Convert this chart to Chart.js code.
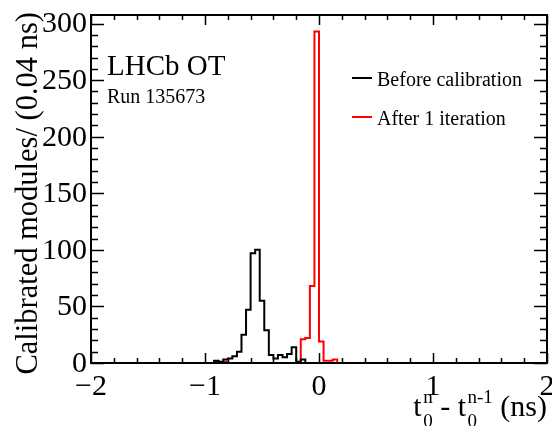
<!DOCTYPE html>
<html>
<head>
<meta charset="utf-8">
<script src="https://cdn.jsdelivr.net/npm/chart.js@4"></script>
<style>
  html, body { margin: 0; padding: 0; background: #fff; }
  #wrap { width: 552px; height: 426px; position: relative; }
</style>
</head>
<body>
<div id="wrap"><canvas id="c" width="552" height="426"></canvas></div>
<script>
// ---- data (bin width 0.04 ns, 100 bins from -2 to 2) ----
const xMin = -2;
const xMax = 2;
const binWidth = 0.04;
// counts per bin, bin index 0..99
const beforeCounts = [
  0,0,0,0,0,0,0,0,0,0,
  0,0,0,0,0,0,0,0,0,0,
  0,0,0,0,0,0,0,2,1,3,
  4,6,10,25,47,97,100,55,29,7,
  4,7,5,8,14,1,3,0,0,0,
  0,0,0,0,0,0,0,0,0,0,
  0,0,0,0,0,0,0,0,0,0,
  0,0,0,0,0,0,0,0,0,0,
  0,0,0,0,0,0,0,0,0,0,
  0,0,0,0,0,0,0,0,0,0
];
const afterCounts = [
  0,0,0,0,0,0,0,0,0,0,
  0,0,0,0,0,0,0,0,0,0,
  0,0,0,0,0,0,0,1,0,1,
  0,0,0,0,0,0,0,0,0,0,
  0,0,0,0,0,0,21,22,68,293,
  19,2,2,3,0,0,0,0,0,0,
  0,0,0,0,0,0,0,0,0,0,
  0,0,0,0,0,0,0,0,0,0,
  0,0,0,0,0,0,0,0,0,0,
  0,0,0,0,0,0,0,0,0,0
];
const seriesNames = ['Before calibration', 'After 1 iteration'];
const xTickValues = [-2, -1, 0, 1, 2];
const xTickLabels = ['\u22122', '\u22121', '0', '1', '2'];
const yTickValues = [0, 50, 100, 150, 200, 250, 300];
const yTickLabels = ['0', '50', '100', '150', '200', '250', '300'];
const yMax = 307.6;

function toSteps(counts) {
  const pts = counts.map((v, i) => ({ x: xMin + i * binWidth, y: v }));
  pts.push({ x: xMin + counts.length * binWidth, y: counts[counts.length - 1] });
  return pts;
}

const FONT = '"Liberation Serif", "Times New Roman", serif';

const framePlugin = {
  id: 'rootFrame',
  afterDraw(chart) {
    const ctx = chart.ctx;
    const xs = chart.scales.x, ys = chart.scales.y;
    const a = chart.chartArea;
    ctx.save();
    ctx.strokeStyle = '#000';
    ctx.lineWidth = 2;
    ctx.strokeRect(a.left, a.top, a.right - a.left, a.bottom - a.top);
    ctx.lineWidth = 1.5;
    // x ticks
    for (let i = 0; i <= 20; i++) {
      const v = xMin + i * 0.2;
      const px = Math.round(xs.getPixelForValue(v)) + 0.5;
      const major = (i % 5 === 0);
      const len = major ? 10 : 5;
      ctx.beginPath();
      ctx.moveTo(px, a.bottom); ctx.lineTo(px, a.bottom - len);
      ctx.moveTo(px, a.top); ctx.lineTo(px, a.top + len);
      ctx.stroke();
    }
    // y ticks
    for (let v = 0; v <= yMax; v += 10) {
      const py = Math.round(ys.getPixelForValue(v)) + 0.5;
      const major = (v % 50 === 0);
      const len = major ? 13 : 7;
      ctx.beginPath();
      ctx.moveTo(a.left, py); ctx.lineTo(a.left + len, py);
      ctx.moveTo(a.right, py); ctx.lineTo(a.right - len, py);
      ctx.stroke();
    }
    // tick labels
    ctx.fillStyle = '#000';
    ctx.font = '30px ' + FONT;
    ctx.textAlign = 'center';
    ctx.textBaseline = 'alphabetic';
    xTickValues.forEach((v, i) => {
      ctx.fillText(xTickLabels[i], xs.getPixelForValue(v), 395);
    });
    ctx.textAlign = 'right';
    ctx.textBaseline = 'middle';
    yTickValues.forEach((v, i) => {
      ctx.fillText(yTickLabels[i], a.left - 4, ys.getPixelForValue(v) + 1);
    });
    // y title
    ctx.save();
    ctx.translate(37, a.top - 3);
    ctx.rotate(-Math.PI / 2);
    ctx.textAlign = 'right';
    ctx.textBaseline = 'alphabetic';
    ctx.font = '30.5px ' + FONT;
    ctx.fillText('Calibrated modules/ (0.04 ns)', 0, 0);
    ctx.restore();
    // x title with scripts
    const main = '30px ' + FONT, small = '19px ' + FONT;
    const parts = [
      { t: 't', f: main },
      { sup: 'n', sub: '0' },
      { t: ' - t', f: main },
      { sup: 'n-1', sub: '0' },
      { t: ' (ns)', f: main }
    ];
    let total = 0;
    parts.forEach(p => {
      if (p.t) { ctx.font = p.f; p.w = ctx.measureText(p.t).width; }
      else { ctx.font = small; p.w = Math.max(ctx.measureText(p.sup).width, ctx.measureText(p.sub).width) + 1.5; }
      total += p.w;
    });
    let x = a.right - total;
    const base = 416;
    ctx.textAlign = 'left';
    ctx.textBaseline = 'alphabetic';
    parts.forEach(p => {
      if (p.t) { ctx.font = p.f; ctx.fillText(p.t, x, base); }
      else {
        ctx.font = small;
        ctx.fillText(p.sup, x + 1.5, base - 13);
        ctx.fillText(p.sub, x + 1.5, base + 11);
      }
      x += p.w;
    });
    // annotations
    ctx.font = '29px ' + FONT;
    ctx.fillText('LHCb OT', 107, 75);
    ctx.font = '20px ' + FONT;
    ctx.fillText('Run 135673', 107, 103);
    // legend
    const colors = ['#000000', '#ff0000'];
    const ly = [78, 117];
    seriesNames.forEach((n, i) => {
      ctx.strokeStyle = colors[i];
      ctx.lineWidth = 2;
      ctx.beginPath();
      ctx.moveTo(352, ly[i]); ctx.lineTo(372, ly[i]);
      ctx.stroke();
      ctx.fillStyle = '#000';
      ctx.font = '20px ' + FONT;
      ctx.fillText(n, 377, ly[i] + 8);
    });
    ctx.restore();
  }
};

new Chart(document.getElementById('c'), {
  type: 'line',
  data: {
    datasets: [
      { label: seriesNames[0], data: toSteps(beforeCounts), borderColor: '#000000', borderWidth: 2,
        stepped: 'before', pointRadius: 0, fill: false, order: 0, clip: false },
      { label: seriesNames[1], data: toSteps(afterCounts), borderColor: '#ff0000', borderWidth: 2,
        stepped: 'before', pointRadius: 0, fill: false, order: 1, clip: false }
    ]
  },
  options: {
    responsive: false,
    animation: false,
    layout: { padding: { left: 91, right: 5, top: 15, bottom: 63 } },
    plugins: { legend: { display: false }, tooltip: { enabled: false } },
    scales: {
      x: { type: 'linear', min: xMin, max: xMax, display: false },
      y: { type: 'linear', min: 0, max: yMax, display: false }
    }
  },
  plugins: [framePlugin]
});
</script>
</body>
</html>
